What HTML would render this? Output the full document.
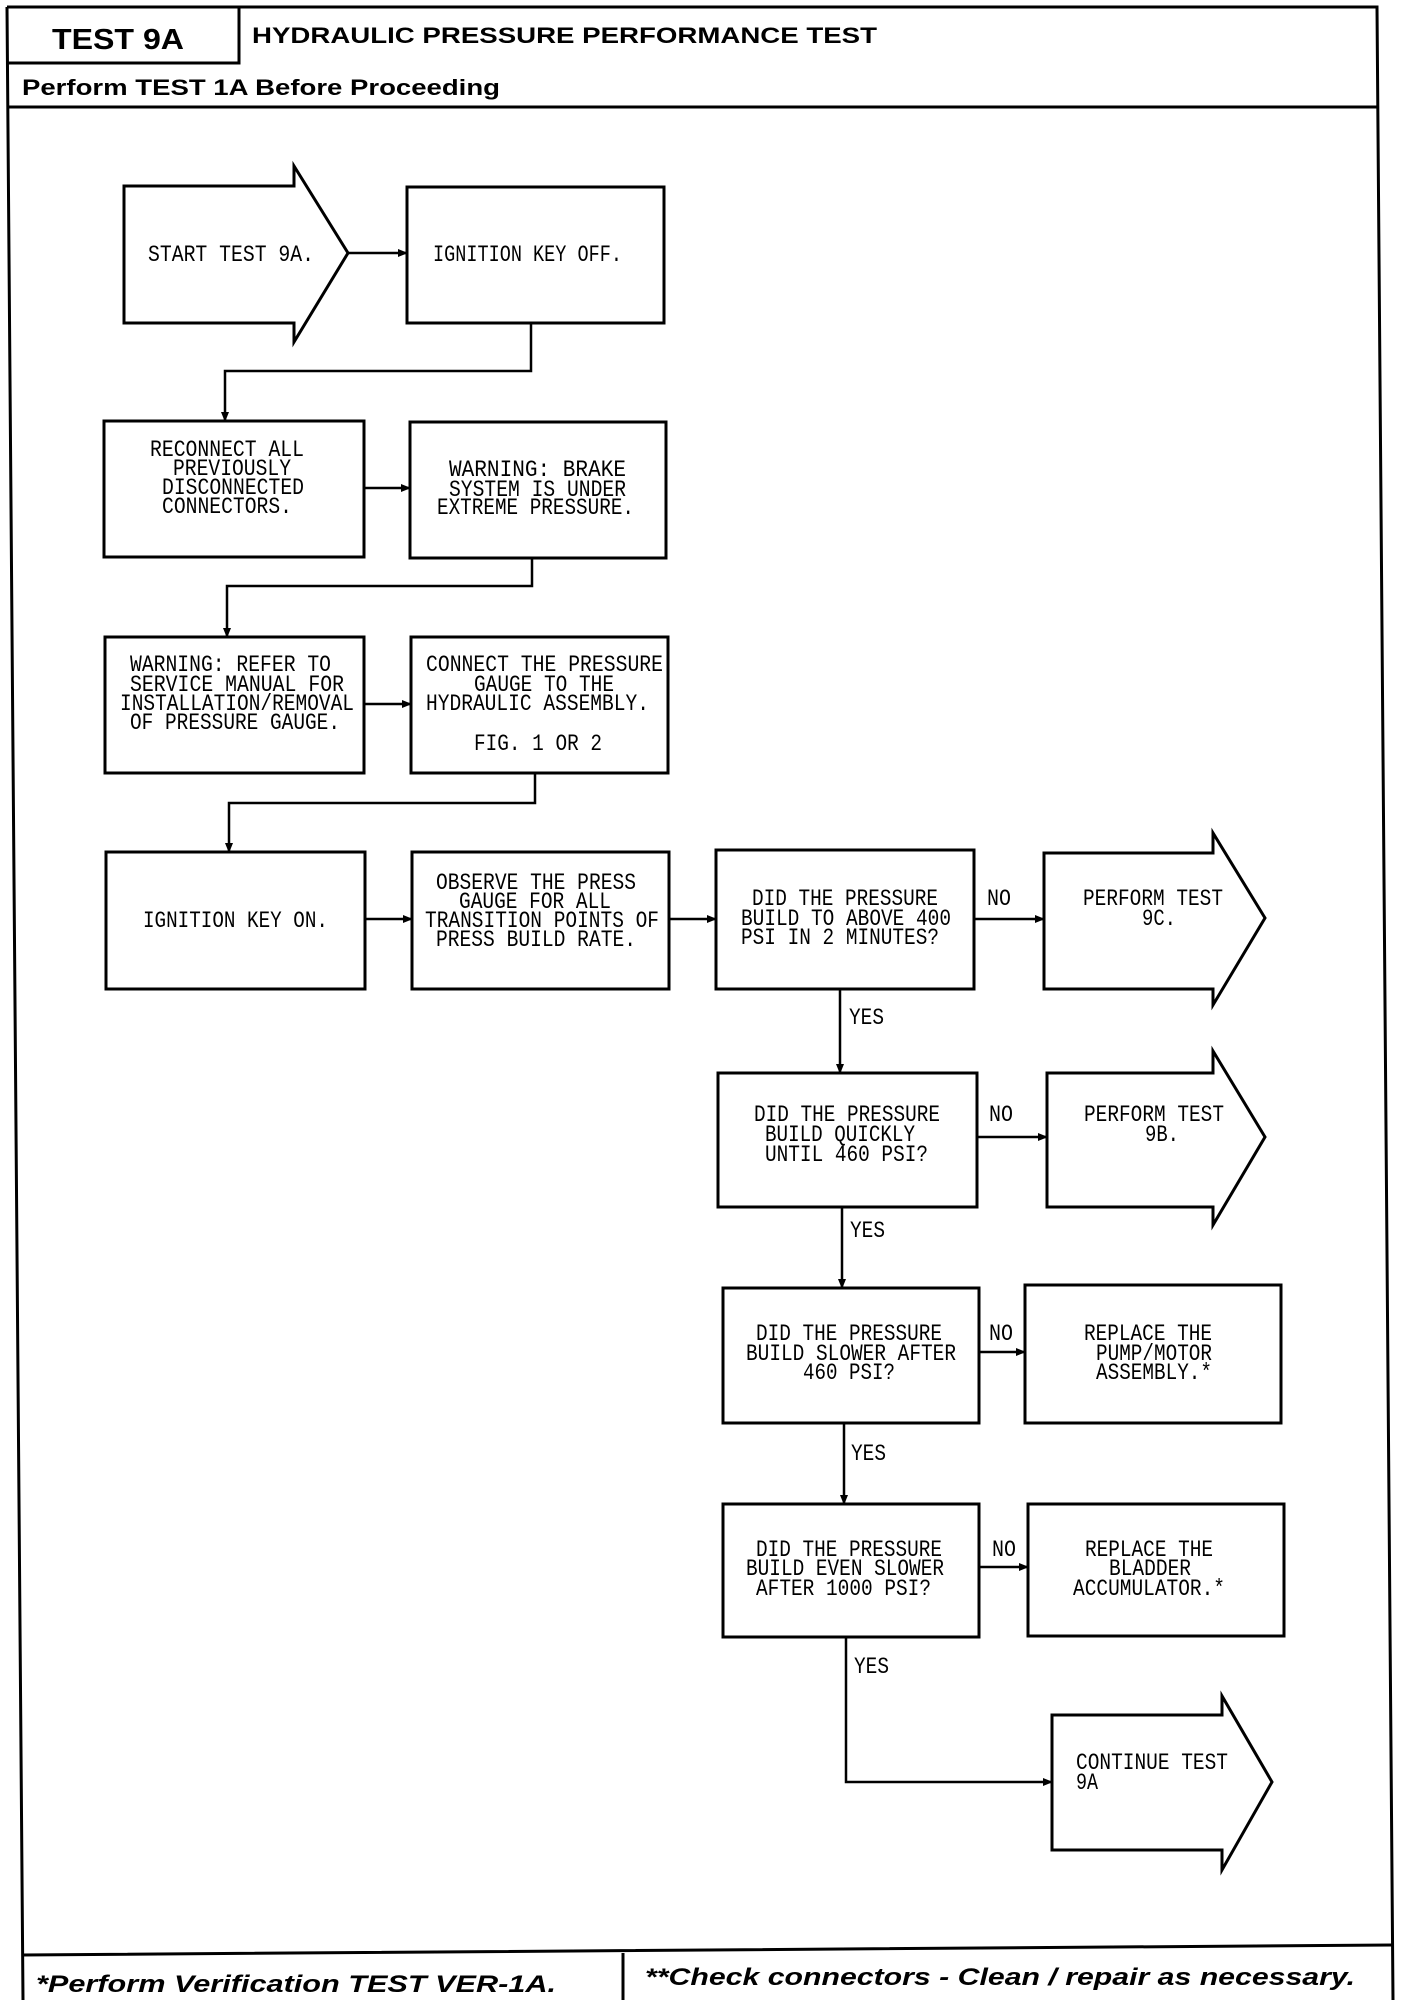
<!DOCTYPE html>
<html><head><meta charset="utf-8"><style>
html,body{margin:0;padding:0;background:#fff;}
svg{display:block;}
.m{font-family:"Liberation Mono",monospace;font-size:23px;fill:#000;}
.b{font-family:"Liberation Sans",sans-serif;font-weight:bold;fill:#000;}
</style></head><body>
<svg width="1408" height="2000" viewBox="0 0 1408 2000" xmlns="http://www.w3.org/2000/svg">
<defs><marker id="a" markerWidth="10" markerHeight="10" refX="9" refY="5" orient="auto" markerUnits="userSpaceOnUse"><path d="M0,1 L10,5 L0,9 z" fill="#000"/></marker></defs>
<g fill="none" stroke="#000" stroke-width="3">
<path d="M7,7 L1377,7 L1393,2000 M7,7 L23,2000"/>
<path d="M7,63 L239,63 L239,7 M7,107 L1378,107"/>
<path d="M22,1955 L1392,1945 M623,1953 L623,2000"/>
<path d="M124,186 L294,186 L294,166 L348,253 L294,342 L294,323 L124,323 Z"/>
<rect x="407" y="187" width="257" height="136"/>
<rect x="104" y="421" width="260" height="136"/>
<rect x="410" y="422" width="256" height="136"/>
<rect x="105" y="637" width="259" height="136"/>
<rect x="411" y="637" width="257" height="136"/>
<rect x="106" y="852" width="259" height="137"/>
<rect x="412" y="852" width="257" height="137"/>
<rect x="716" y="850" width="258" height="139"/>
<path d="M1044,853 L1213,853 L1213,833 L1265,918 L1213,1005 L1213,989 L1044,989 Z"/>
<rect x="718" y="1073" width="259" height="134"/>
<path d="M1047,1073 L1213,1073 L1213,1051 L1265,1137 L1213,1225 L1213,1207 L1047,1207 Z"/>
<rect x="723" y="1288" width="256" height="135"/>
<rect x="1025" y="1285" width="256" height="138"/>
<rect x="723" y="1504" width="256" height="133"/>
<rect x="1028" y="1504" width="256" height="132"/>
<path d="M1052,1715 L1222,1715 L1222,1696 L1272,1782 L1222,1870 L1222,1850 L1052,1850 Z"/>
</g>
<g fill="none" stroke="#000" stroke-width="2.5" marker-end="url(#a)">
<path d="M348,253 L407,253"/>
<path d="M531,323 L531,371 L225,371 L225,421"/>
<path d="M364,488 L410,488"/>
<path d="M532,558 L532,586 L227,586 L227,637"/>
<path d="M364,704 L411,704"/>
<path d="M535,773 L535,803 L229,803 L229,852"/>
<path d="M365,919 L412,919"/>
<path d="M669,919 L716,919"/>
<path d="M974,919 L1044,919"/>
<path d="M840,989 L840,1073"/>
<path d="M977,1137 L1047,1137"/>
<path d="M842,1207 L842,1288"/>
<path d="M979,1352 L1025,1352"/>
<path d="M844,1423 L844,1504"/>
<path d="M979,1567 L1028,1567"/>
<path d="M846,1637 L846,1782 L1052,1782"/>
</g>
<text class="b" x="52" y="49" font-size="29" textLength="132" lengthAdjust="spacingAndGlyphs">TEST 9A</text>
<text class="b" x="252" y="43" font-size="22" textLength="625" lengthAdjust="spacingAndGlyphs">HYDRAULIC PRESSURE PERFORMANCE TEST</text>
<text class="b" x="22" y="95" font-size="22" textLength="478" lengthAdjust="spacingAndGlyphs">Perform TEST 1A Before Proceeding</text>
<text class="b" x="36" y="1992" font-size="24" font-style="italic" textLength="520" lengthAdjust="spacingAndGlyphs">*Perform Verification TEST VER-1A.</text>
<text class="b" x="645" y="1985" font-size="24" font-style="italic" textLength="710" lengthAdjust="spacingAndGlyphs">**Check connectors - Clean / repair as necessary.</text>
<g class="m">
<text x="148" y="261" textLength="166" lengthAdjust="spacingAndGlyphs">START TEST 9A.</text>
<text x="433" y="261" textLength="189" lengthAdjust="spacingAndGlyphs">IGNITION KEY OFF.</text>
<text x="150" y="456" textLength="154" lengthAdjust="spacingAndGlyphs">RECONNECT ALL</text>
<text x="173" y="475" textLength="118" lengthAdjust="spacingAndGlyphs">PREVIOUSLY</text>
<text x="162" y="494" textLength="142" lengthAdjust="spacingAndGlyphs">DISCONNECTED</text>
<text x="162" y="513" textLength="130" lengthAdjust="spacingAndGlyphs">CONNECTORS.</text>
<text x="449" y="476" textLength="177" lengthAdjust="spacingAndGlyphs">WARNING:  BRAKE</text>
<text x="449" y="496" textLength="177" lengthAdjust="spacingAndGlyphs">SYSTEM IS UNDER</text>
<text x="437" y="514" textLength="197" lengthAdjust="spacingAndGlyphs">EXTREME PRESSURE.</text>
<text x="130" y="671" textLength="201" lengthAdjust="spacingAndGlyphs">WARNING: REFER TO</text>
<text x="130" y="691" textLength="214" lengthAdjust="spacingAndGlyphs">SERVICE MANUAL FOR</text>
<text x="120" y="710" textLength="234" lengthAdjust="spacingAndGlyphs">INSTALLATION/REMOVAL</text>
<text x="130" y="729" textLength="210" lengthAdjust="spacingAndGlyphs">OF PRESSURE GAUGE.</text>
<text x="426" y="671" textLength="237" lengthAdjust="spacingAndGlyphs">CONNECT THE PRESSURE</text>
<text x="474" y="691" textLength="140" lengthAdjust="spacingAndGlyphs">GAUGE TO THE</text>
<text x="426" y="710" textLength="223" lengthAdjust="spacingAndGlyphs">HYDRAULIC ASSEMBLY.</text>
<text x="474" y="750" textLength="128" lengthAdjust="spacingAndGlyphs">FIG. 1 OR 2</text>
<text x="143" y="927" textLength="185" lengthAdjust="spacingAndGlyphs">IGNITION KEY ON.</text>
<text x="436" y="889" textLength="200" lengthAdjust="spacingAndGlyphs">OBSERVE THE PRESS</text>
<text x="459" y="908" textLength="152" lengthAdjust="spacingAndGlyphs">GAUGE FOR ALL</text>
<text x="425" y="927" textLength="234" lengthAdjust="spacingAndGlyphs">TRANSITION POINTS OF</text>
<text x="436" y="946" textLength="200" lengthAdjust="spacingAndGlyphs">PRESS BUILD RATE.</text>
<text x="752" y="905" textLength="186" lengthAdjust="spacingAndGlyphs">DID THE PRESSURE</text>
<text x="741" y="925" textLength="210" lengthAdjust="spacingAndGlyphs">BUILD TO ABOVE 400</text>
<text x="741" y="944" textLength="198" lengthAdjust="spacingAndGlyphs">PSI IN 2 MINUTES?</text>
<text x="987" y="905" textLength="24" lengthAdjust="spacingAndGlyphs">NO</text>
<text x="1083" y="905" textLength="140" lengthAdjust="spacingAndGlyphs">PERFORM TEST</text>
<text x="1142" y="925" textLength="34" lengthAdjust="spacingAndGlyphs">9C.</text>
<text x="849" y="1024" textLength="35" lengthAdjust="spacingAndGlyphs">YES</text>
<text x="754" y="1121" textLength="186" lengthAdjust="spacingAndGlyphs">DID THE PRESSURE</text>
<text x="765" y="1141" textLength="150" lengthAdjust="spacingAndGlyphs">BUILD QUICKLY</text>
<text x="765" y="1161" textLength="163" lengthAdjust="spacingAndGlyphs">UNTIL 460 PSI?</text>
<text x="989" y="1121" textLength="24" lengthAdjust="spacingAndGlyphs">NO</text>
<text x="1084" y="1121" textLength="140" lengthAdjust="spacingAndGlyphs">PERFORM TEST</text>
<text x="1145" y="1141" textLength="34" lengthAdjust="spacingAndGlyphs">9B.</text>
<text x="850" y="1237" textLength="35" lengthAdjust="spacingAndGlyphs">YES</text>
<text x="756" y="1340" textLength="186" lengthAdjust="spacingAndGlyphs">DID THE PRESSURE</text>
<text x="746" y="1360" textLength="210" lengthAdjust="spacingAndGlyphs">BUILD SLOWER AFTER</text>
<text x="803" y="1379" textLength="92" lengthAdjust="spacingAndGlyphs">460 PSI?</text>
<text x="989" y="1340" textLength="24" lengthAdjust="spacingAndGlyphs">NO</text>
<text x="1084" y="1340" textLength="128" lengthAdjust="spacingAndGlyphs">REPLACE THE</text>
<text x="1096" y="1360" textLength="116" lengthAdjust="spacingAndGlyphs">PUMP/MOTOR</text>
<text x="1096" y="1379" textLength="116" lengthAdjust="spacingAndGlyphs">ASSEMBLY.*</text>
<text x="851" y="1460" textLength="35" lengthAdjust="spacingAndGlyphs">YES</text>
<text x="756" y="1556" textLength="186" lengthAdjust="spacingAndGlyphs">DID THE PRESSURE</text>
<text x="746" y="1575" textLength="198" lengthAdjust="spacingAndGlyphs">BUILD EVEN SLOWER</text>
<text x="756" y="1595" textLength="175" lengthAdjust="spacingAndGlyphs">AFTER 1000 PSI?</text>
<text x="992" y="1556" textLength="24" lengthAdjust="spacingAndGlyphs">NO</text>
<text x="1085" y="1556" textLength="128" lengthAdjust="spacingAndGlyphs">REPLACE THE</text>
<text x="1109" y="1575" textLength="82" lengthAdjust="spacingAndGlyphs">BLADDER</text>
<text x="1073" y="1595" textLength="152" lengthAdjust="spacingAndGlyphs">ACCUMULATOR.*</text>
<text x="854" y="1673" textLength="35" lengthAdjust="spacingAndGlyphs">YES</text>
<text x="1076" y="1769" textLength="152" lengthAdjust="spacingAndGlyphs">CONTINUE TEST</text>
<text x="1076" y="1789" textLength="22" lengthAdjust="spacingAndGlyphs">9A</text>
</g>
</svg>
</body></html>
